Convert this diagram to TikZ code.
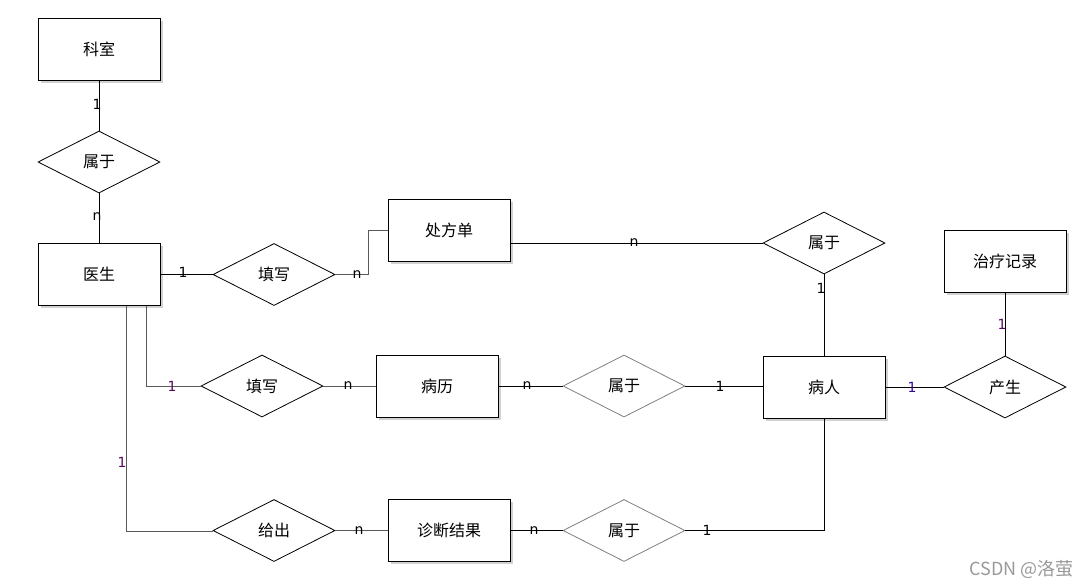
\documentclass[tikz,border=0pt]{standalone}
\usepackage{fontspec}
\setmainfont{DejaVu Sans}
\newfontfamily\cjk{Noto Sans CJK SC}
\usetikzlibrary{shapes.geometric,shadows}
\definecolor{lblpurple}{HTML}{5A0A5A}
\definecolor{grayline}{HTML}{808080}
\begin{document}
\begin{tikzpicture}[x=1pt,y=-1pt,
  entity/.style={draw=black,line width=0.9pt,fill=white,minimum width=122pt,minimum height=62pt,inner sep=0pt,font=\cjk\fontsize{16}{18}\selectfont,
     drop shadow={shadow xshift=2.5pt,shadow yshift=-2.5pt,opacity=0.18,fill=black}},
  rel/.style={diamond,draw=black,line width=0.8pt,fill=white,minimum width=122pt,minimum height=62pt,aspect=2,inner sep=0pt,font=\cjk\fontsize{16}{18}\selectfont},
  grel/.style={rel,draw=grayline},
  conn/.style={line width=0.8pt,draw=black},
  gconn/.style={line width=0.8pt,draw=black!65},
  card/.style={font=\fontsize{14}{15}\selectfont,inner sep=0pt}
]
\useasboundingbox (0,0) rectangle (1089,587);
% entities
\node[entity] (ks) at (99,49) {科室};
\node[entity] (ys) at (99,274.5) {医生};
\node[entity] (cfd) at (449,230.5) {处方单};
\node[entity] (bl) at (437,386) {病历};
\node[entity] (br) at (824,387) {病人};
\node[entity] (zl) at (1005,261.5) {治疗记录};
\node[entity] (zd) at (449,530.5) {诊断结果};
% relationships
\node[rel] (r1) at (99,162) {属于};
\node[rel] (tx1) at (274,274.5) {填写};
\node[rel] (r2) at (824,243) {属于};
\node[rel] (tx2) at (262,386) {填写};
\node[grel] (r3) at (624,386) {属于};
\node[rel] (cs) at (1005,387) {产生};
\node[rel] (gc) at (274,530.5) {给出};
\node[grel] (r4) at (624,530.5) {属于};
% coordinates
\coordinate (c1) at (368,274.5);
\coordinate (c2) at (368,230.5);
\coordinate (d1) at (146,386);
\coordinate (d2) at (126,531);
\coordinate (p1) at (824,530.5);
% connectors
\draw[conn] (ks.south) -- (r1.north);
\draw[conn] (r1.south) -- (ys.north);
\draw[conn] (ys.east) -- (tx1.west);
\draw[gconn] (tx1.east) -- (c1) -- (c2) -- (cfd.west);
\draw[conn] (cfd.east |- r2.west) -- (r2.west);
\draw[conn] (r2.south) -- (br.north);
\draw[gconn] (ys.south -| d1) -- (d1) -- (tx2.west);
\draw[gconn] (tx2.east) -- (bl.west);
\draw[conn] (bl.east) -- (r3.west);
\draw[conn] (r3.east) -- (br.west |- r3.east);
\draw[conn] (br.east) -- (cs.west);
\draw[conn] (cs.north) -- (zl.south);
\draw[gconn] (ys.south -| d2) -- (d2) -- (gc.west |- d2);
\draw[gconn] (gc.east) -- (zd.west);
\draw[conn] (zd.east) -- (r4.west);
\draw[conn] (r4.east) -- (p1) -- (br.south);
% cardinalities
\node[card] (l1) at (97,104) {1};
\node[card] (l2) at (97,217) {n};
\node[card] (l3) at (183,272.5) {1};
\node[card] (l4) at (357,275) {n};
\node[card] (l5) at (634,243) {n};
\node[card] (l6) at (821,288) {1};
\node[card,text=lblpurple] (l7) at (172,386) {1};
\node[card] (l8) at (348,386) {n};
\node[card] (l9) at (527,386) {n};
\node[card] (l10) at (720,386) {1};
\node[card,text=lblpurple!60!blue] (l11) at (912,387) {1};
\node[card,text=lblpurple] (l12) at (1002,324) {1};
\node[card,text=lblpurple] (l13) at (122,462) {1};
\node[card] (l14) at (359,531) {n};
\node[card] (l15) at (534,530.5) {n};
\node[card] (l16) at (707,530) {1};
% watermark
\node[font=\cjk\fontsize{18}{20}\selectfont,text=black!40,anchor=east,inner sep=0pt] (wm) at (1074,569) {CSDN @洛萤};
\end{tikzpicture}
\end{document}
